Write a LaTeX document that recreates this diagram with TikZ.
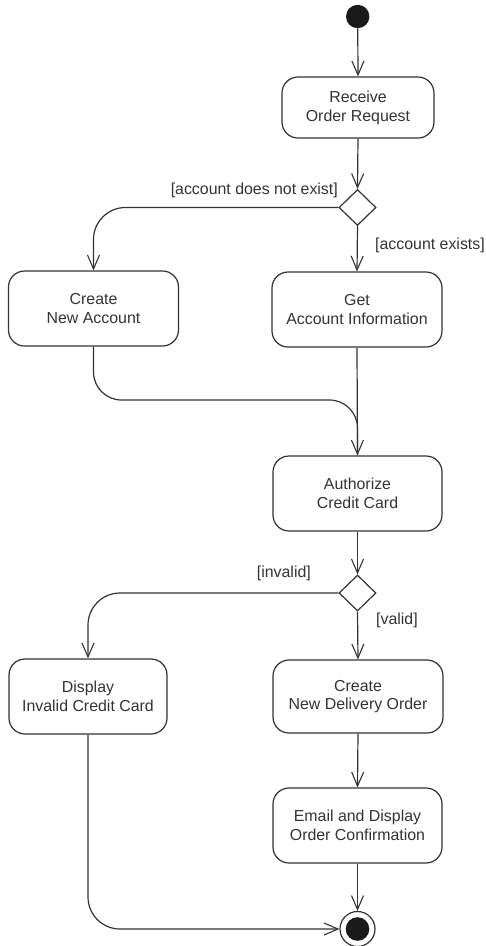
\documentclass[tikz,border=0pt]{standalone}
\usepackage{fontspec}
\setmainfont{Liberation Sans}
\usetikzlibrary{shapes.geometric,arrows.meta}
\definecolor{ln}{HTML}{333333}
\definecolor{dot}{HTML}{1A1A1A}
\begin{document}
\begin{tikzpicture}[x=1pt,y=-1pt,
  every node/.style={text=ln},
  actbox/.style={draw=ln,line width=1.2pt,rounded corners=16pt,align=center,inner sep=0pt,
    font=\fontsize{15.9}{18.8}\selectfont},
  decis/.style={draw=ln,line width=1.2pt,diamond,inner sep=0pt,minimum width=37pt,minimum height=36pt},
  guard/.style={inner sep=0pt,font=\fontsize{15.9}{18.8}\selectfont},
  flow/.style={draw=ln,line width=1.2pt,-{Straight Barb[length=14pt,width=12pt,line width=1.1pt]}},
  plain/.style={draw=ln,line width=1.2pt}]
\useasboundingbox (0,0) rectangle (486,946);
\node[circle,fill=dot,minimum size=23.4pt,inner sep=0pt] (init) at (357.7,16.5) {};
\node[actbox,minimum width=152pt,minimum height=61pt] (recv) at (358,107.5) {Receive\\Order Request};
\node[decis] (d1) at (357.5,207.5) {};
\node[actbox,minimum width=170pt,minimum height=75pt] (newacc) at (93.5,308.5) {Create\\New Account};
\node[actbox,minimum width=170pt,minimum height=75pt] (getacc) at (357,309.5) {Get\\Account Information};
\node[actbox,minimum width=169pt,minimum height=75pt] (auth) at (357.5,493.5) {Authorize\\Credit Card};
\node[decis] (d2) at (357.5,593) {};
\node[actbox,minimum width=158pt,minimum height=75pt] (disp) at (88,696.5) {Display\\Invalid Credit Card};
\node[actbox,minimum width=170pt,minimum height=73pt] (deliv) at (358,696.5) {Create\\New Delivery Order};
\node[actbox,minimum width=169pt,minimum height=75pt] (email) at (357.5,825.5) {Email and Display\\Order Confirmation};
\node[circle,draw=ln,line width=1.2pt,minimum size=35pt,inner sep=0pt] (fin) at (357.5,929) {};
\node[circle,fill=dot,minimum size=23.6pt,inner sep=0pt] (finin) at (fin.center) {};
\node[guard,anchor=east] (g1) at (338,190) {[account does not exist]};
\node[guard,anchor=west] (g2) at (375,245) {[account exists]};
\node[guard,anchor=east] (g3) at (311,573) {[invalid]};
\node[guard,anchor=west] (g4) at (376,620.5) {[valid]};
\coordinate (mrg) at (357.5,400);
\draw[flow] (init) -- (recv.north);
\draw[flow] (recv.south) -- (d1.north);
\draw[flow,rounded corners=32pt] (d1.west) -| (newacc.north);
\draw[flow] (d1.south) -- (getacc.north);
\draw[plain,rounded corners=28pt] (newacc.south) |- (mrg) -- (auth.north);
\draw[flow] (getacc.south) -- (auth.north);
\draw[flow] (auth.south) -- (d2.north);
\draw[flow,rounded corners=32pt] (d2.west) -| (disp.north);
\draw[flow] (d2.south) -- (deliv.north);
\draw[flow] (deliv.south) -- (email.north);
\draw[flow] (email.south) -- (fin.north);
\draw[flow,rounded corners=32pt] (disp.south) |- (fin.west);
\end{tikzpicture}
\end{document}
